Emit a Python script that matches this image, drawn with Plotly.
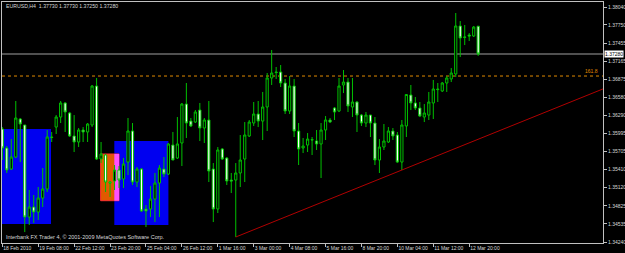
import plotly.graph_objects as go

# ---------------- data ----------------
opens = [1.36067,1.35760,1.35420,1.35614,1.36229,1.36132,1.34644,1.34806,1.34725,1.34951,
         1.35097,1.35938,1.36099,1.36261,1.36488,1.36326,1.35954,1.35857,1.36051,1.36019,
         1.36132,1.36762,1.35582,1.35647,1.35210,1.35226,1.35404,1.35259,1.35533,1.36035,
         1.35210,1.35420,1.34774,1.34774,1.34935,1.35194,1.35420,1.35339,1.35808,1.35598,
         1.35841,1.36471,1.36196,1.36180,1.36374,1.36083,1.36213,1.35420,1.34774,1.35744,
         1.35598,1.35242,1.35242,1.35356,1.35582,1.35954,1.36164,1.36310,1.36196,1.36423,
         1.36892,1.36989,1.36989,1.36811,1.36358,1.36762,1.36035,1.35760,1.35808,1.35889,
         1.35873,1.35825,1.36051,1.36213,1.36407,1.36358,1.36779,1.36827,1.36423,1.36504,
         1.36293,1.36164,1.36293,1.36164,1.35566,1.35776,1.35857,1.36035,1.35970,1.35533,
         1.36116,1.36617,1.36488,1.36407,1.36261,1.36293,1.36488,1.36714,1.36682,1.36811,
         1.36876,1.36957,1.37733,1.37555,1.37587,1.37571,1.37730]
highs = [1.36099,1.35792,1.35905,1.36520,1.36245,1.36132,1.35081,1.35000,1.35129,1.35436,
         1.36051,1.36019,1.36293,1.36520,1.36504,1.36342,1.36293,1.36083,1.36099,1.36164,
         1.36779,1.36892,1.35857,1.35663,1.35226,1.35485,1.35469,1.35598,1.36245,1.36164,
         1.35453,1.35436,1.34838,1.35145,1.35356,1.35485,1.35614,1.35841,1.36019,1.36261,
         1.36488,1.36811,1.36245,1.36374,1.36488,1.36245,1.36520,1.35517,1.35776,1.35760,
         1.35614,1.35356,1.35517,1.35970,1.36180,1.36213,1.36504,1.36520,1.36666,1.36973,
         1.37345,1.37070,1.37102,1.36876,1.36924,1.36876,1.36164,1.35922,1.36002,1.35938,
         1.36051,1.36164,1.36277,1.36245,1.36423,1.36892,1.37021,1.36892,1.36892,1.36520,
         1.36310,1.36342,1.36293,1.36261,1.35905,1.36148,1.36099,1.36083,1.36019,1.36213,
         1.36633,1.36779,1.36585,1.36504,1.36471,1.36666,1.36860,1.36811,1.36827,1.36924,
         1.37053,1.37943,1.37813,1.37749,1.37619,1.37733,1.37730]
lows = [1.35566,1.35356,1.35404,1.35598,1.35533,1.34401,1.34515,1.34547,1.34596,1.34806,
        1.35048,1.35857,1.35986,1.36164,1.36019,1.35938,1.35695,1.35776,1.35857,1.35857,
        1.36099,1.35566,1.35517,1.35048,1.34968,1.35081,1.35113,1.35113,1.35323,1.35162,
        1.35129,1.34725,1.34482,1.34644,1.34563,1.34644,1.35291,1.35323,1.35566,1.35582,
        1.35469,1.35922,1.36099,1.36164,1.35873,1.35841,1.35210,1.34563,1.34709,1.35566,
        1.35162,1.35032,1.34321,1.35129,1.35210,1.35938,1.36116,1.36099,1.35889,1.36035,
        1.36779,1.36876,1.36746,1.36310,1.36310,1.35938,1.35485,1.35679,1.35695,1.35647,
        1.35728,1.35275,1.35889,1.36164,1.36213,1.36342,1.36649,1.36342,1.36261,1.36019,
        1.36116,1.36099,1.35938,1.35485,1.35356,1.35728,1.35841,1.35889,1.35517,1.35404,
        1.35938,1.36374,1.36374,1.36261,1.36180,1.36213,1.36229,1.36504,1.36666,1.36666,
        1.36827,1.36908,1.37231,1.37425,1.37490,1.37555,1.37250]
closes = [1.35760,1.35404,1.35614,1.36245,1.36148,1.34644,1.34806,1.34725,1.34951,1.35097,
          1.35938,1.35930,1.36261,1.36488,1.36342,1.35954,1.35857,1.36051,1.36019,1.36148,
          1.36762,1.35582,1.35663,1.35210,1.35194,1.35404,1.35242,1.35501,1.36035,1.35210,
          1.35420,1.34741,1.34741,1.34935,1.35194,1.35436,1.35339,1.35825,1.35566,1.35825,
          1.36471,1.36164,1.36116,1.36342,1.36083,1.36213,1.35388,1.34774,1.35728,1.35582,
          1.35226,1.35226,1.35356,1.35566,1.35970,1.36180,1.36310,1.36196,1.36423,1.36892,
          1.36973,1.36980,1.36811,1.36358,1.36762,1.36035,1.35744,1.35792,1.35905,1.35895,
          1.35825,1.36051,1.36213,1.36180,1.36342,1.36762,1.36827,1.36439,1.36504,1.36293,
          1.36164,1.36293,1.36164,1.35566,1.35776,1.35873,1.36035,1.35954,1.35533,1.36132,
          1.36625,1.36488,1.36407,1.36277,1.36326,1.36504,1.36714,1.36705,1.36811,1.36892,
          1.36973,1.37733,1.37539,1.37550,1.37571,1.37716,1.37280]

x_tick_idx = [0, 8, 16, 24, 32, 40, 48, 56, 64, 72, 80, 88, 96, 104]
x_tick_labels = ["18 Feb 2010", "19 Feb 08:00", "22 Feb 12:00", "23 Feb 20:00",
                 "25 Feb 04:00", "26 Feb 12:00", "1 Mar 16:00", "3 Mar 00:00",
                 "4 Mar 08:00", "5 Mar 16:00", "8 Mar 20:00", "10 Mar 04:00",
                 "11 Mar 12:00", "12 Mar 20:00"]
y_tick_vals = [1.38040, 1.37750, 1.37455, 1.37165, 1.36875, 1.36580, 1.36290,
               1.35995, 1.35705, 1.35410, 1.35120, 1.34825, 1.34535, 1.34240]
y_tick_labels = ["%.5f" % v for v in y_tick_vals]

header_text = "EURUSD,H4  1.37730 1.37730 1.37250 1.37280"
copyright_text = "Interbank FX Trader 4, © 2001-2009 MetaQuotes Software Corp."
last_price = 1.37280
fibo_level = 1.36924
fibo_label = "161.8"
trend_idx = [52, 89]   # bars whose lows anchor the trendline

# rectangles: (x0, x1, y0, y1)
blue_box_1 = (-0.13, 10.85, 1.34531, 1.36067)
orange_box = (21.9, 26.0, 1.34908, 1.35663)
blue_box_2 = (24.95, 37.0, 1.34515, 1.35873)

X_RANGE = [-0.067, 133.8]
Y_RANGE = [1.34224, 1.38121]

GREEN = "#00c000"
GRAY = "#c0c0c0"
TXT = "#d8d8d8"
FONT = "Liberation Sans"

n = len(opens)
xs = list(range(n))

fig = go.Figure()

fig.add_trace(go.Candlestick(
    x=xs, open=opens, high=highs, low=lows, close=closes,
    increasing=dict(line=dict(color=GREEN, width=1), fillcolor="#000000"),
    decreasing=dict(line=dict(color=GREEN, width=1), fillcolor="#ffffff"),
    whiskerwidth=0, showlegend=False, hoverinfo="skip"))

# trendline (ray)
tx0, tx1 = trend_idx
ty0, ty1 = lows[tx0], lows[tx1]
slope = (ty1 - ty0) / (tx1 - tx0)
xr = X_RANGE[1]
fig.add_trace(go.Scatter(x=[tx0, xr], y=[ty0, ty0 + slope * (xr - tx0)],
                         mode="lines", line=dict(color="#b00000", width=1),
                         showlegend=False, hoverinfo="skip"))

shapes = []
for (x0, x1, y0, y1), col in [(blue_box_1, "#0000f0"), (blue_box_2, "#0000f0")]:
    shapes.append(dict(type="rect", xref="x", yref="y", x0=x0, x1=x1, y0=y0, y1=y1,
                       fillcolor=col, line=dict(width=0), layer="below"))
ox0, ox1, oy0, oy1 = orange_box
shapes.append(dict(type="rect", xref="x", yref="y", x0=ox0, x1=ox1, y0=oy0, y1=oy1,
                   fillcolor="#e05a00", line=dict(width=1, color="#ff3030"), layer="below"))
# overlap of orange and blue box (XOR-style mixed colour)
shapes.append(dict(type="rect", xref="x", yref="y", x0=max(ox0, blue_box_2[0]), x1=ox1,
                   y0=max(oy0, blue_box_2[2]), y1=min(oy1, blue_box_2[3]),
                   fillcolor="#ff50ff", line=dict(width=0), layer="below"))
shapes.append(dict(type="line", xref="paper", yref="y", x0=0, x1=1, y0=last_price, y1=last_price,
                   line=dict(color="#a0a0a0", width=1), layer="below"))
shapes.append(dict(type="line", xref="paper", yref="y", x0=0, x1=1, y0=fibo_level, y1=fibo_level,
                   line=dict(color="#e08a00", width=1, dash="dot"), layer="below"))

annotations = [
    dict(text=header_text, xref="paper", yref="paper", x=0.003, y=0.985, xanchor="left",
         yanchor="middle", showarrow=False, font=dict(family=FONT, size=5.2, color=TXT)),
    dict(text=copyright_text, xref="paper", yref="paper", x=0.003, y=0.023, xanchor="left",
         yanchor="middle", showarrow=False, font=dict(family=FONT, size=5.5, color=TXT)),
    dict(text=fibo_label, xref="paper", yref="y", x=0.995, y=fibo_level, xanchor="right",
         yanchor="bottom", showarrow=False, font=dict(family=FONT, size=5, color="#e08a00")),
    dict(text="%.5f" % last_price, xref="paper", yref="y", x=1.0, y=last_price, xanchor="left",
         yanchor="middle", showarrow=False, bgcolor="#ffffff", borderpad=0, xshift=1,
         font=dict(family=FONT, size=5, color="#000000")),
]

fig.update_layout(
    width=625, height=253,
    margin=dict(l=2, r=22, t=2, b=10),
    paper_bgcolor="#000000", plot_bgcolor="#000000",
    shapes=shapes, annotations=annotations,
    showlegend=False,
    xaxis=dict(range=X_RANGE, showgrid=False, zeroline=False, showline=True,
               linecolor=GRAY, linewidth=1, mirror=True, ticks="outside", ticklen=3,
               tickcolor=GRAY, tickwidth=1, tickvals=x_tick_idx, ticktext=x_tick_labels,
               tickangle=0,
               tickfont=dict(family=FONT, size=5, color=TXT), ticklabelposition="outside right",
               rangeslider=dict(visible=False), automargin=False, fixedrange=True),
    yaxis=dict(range=Y_RANGE, side="right", showgrid=False, zeroline=False, showline=True,
               linecolor=GRAY, linewidth=1, mirror=True, ticks="outside", ticklen=3,
               tickcolor=GRAY, tickwidth=1, tickvals=y_tick_vals, ticktext=y_tick_labels,
               tickfont=dict(family=FONT, size=5, color=TXT), automargin=False, fixedrange=True),
)

fig.write_html("out.html", config={"displayModeBar": False})
